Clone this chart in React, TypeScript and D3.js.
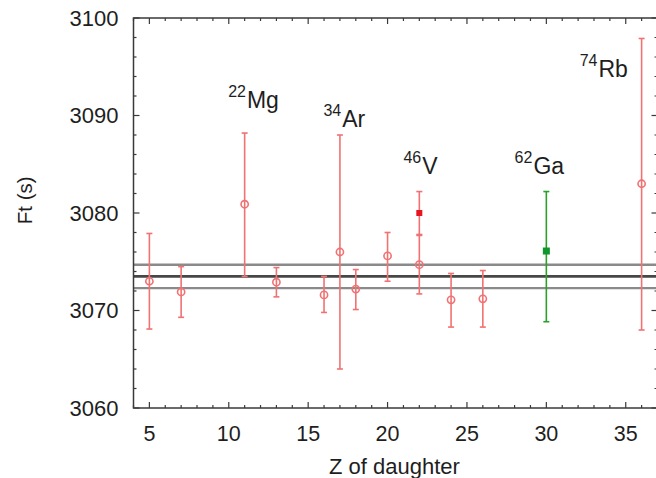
import React from "react";
import * as d3 from "d3";

// ---- data ----
const zValues = [5, 7, 11, 13, 16, 17, 18, 20, 22, 24, 26, 36];
const ftValues = [3073.0, 3071.9, 3080.9, 3072.9, 3071.6, 3076.0, 3072.2, 3075.6, 3074.7, 3071.1, 3071.2, 3083.0];
const errLow = [4.9, 2.6, 7.4, 1.5, 1.8, 12.0, 2.1, 2.6, 3.0, 2.8, 2.9, 15.0];
const errHigh = [4.9, 2.6, 7.3, 1.5, 1.9, 12.0, 2.0, 2.4, 3.0, 2.7, 2.9, 14.9];

const newRedZ = [22];
const newRedFt = [3080.0];
const newRedErrLow = [2.2];
const newRedErrHigh = [2.2];

const greenZ = [30];
const greenFt = [3076.1];
const greenErrLow = [7.25];
const greenErrHigh = [6.1];

const avgFt = 3073.5;
const avgErr = 1.2;

const labelMass = ["22", "34", "46", "62", "74"];
const labelElement = ["Mg", "Ar", "V", "Ga", "Rb"];
const labelZ = [9.96, 15.96, 21.0, 28.0, 32.1];
const labelFt = [3090.8, 3088.85, 3084.0, 3084.0, 3093.95];

const xTickLabels = [5, 10, 15, 20, 25, 30, 35];
const yTickLabels = [3060, 3070, 3080, 3090, 3100];

const W = 656;
const H = 478;
const left = 133.5;
const right = 657.5;
const top = 18;
const bottom = 408;

const FONT = "'Liberation Sans', Arial, Helvetica, sans-serif";
const RED = "#f07272";
const FRAME = "#3a3a3a";
const TEXT = "#1e1e1e";

export default function App() {
  const x = d3.scaleLinear().domain([4, 37]).range([left, right]);
  const y = d3.scaleLinear().domain([3060, 3100]).range([bottom, top]);

  const xMinor = d3.range(4, 38, 1);
  const yMinor = d3.range(3060, 3101, 2);

  const errBar = (
    z: number,
    v: number,
    lo: number,
    hi: number,
    color: string,
    key: string
  ) => {
    const cx = x(z);
    const y1 = y(v + hi);
    const y2 = y(v - lo);
    return (
      <g key={key} stroke={color} strokeWidth={1.6} fill="none">
        <line x1={cx} x2={cx} y1={y1} y2={y2} />
        <line x1={cx - 3} x2={cx + 3} y1={y1} y2={y1} />
        <line x1={cx - 3} x2={cx + 3} y1={y2} y2={y2} />
      </g>
    );
  };

  return (
    <svg
      width={W}
      height={H}
      style={{ position: "absolute", left: 0, top: 0, background: "#fff" }}
      fontFamily={FONT}
    >
      <rect x={0} y={0} width={W} height={H} fill="#fff" />

      {/* average band lines */}
      {[avgFt + avgErr, avgFt - avgErr].map((v, i) => (
        <line
          key={"band" + i}
          x1={left}
          x2={right}
          y1={y(v)}
          y2={y(v)}
          stroke="#8a8a8a"
          strokeWidth={2.4}
        />
      ))}
      <line
        x1={left}
        x2={right}
        y1={y(avgFt)}
        y2={y(avgFt)}
        stroke="#474747"
        strokeWidth={2.6}
      />

      {/* red error bars with open circles */}
      {zValues.map((z, i) => errBar(z, ftValues[i], errLow[i], errHigh[i], RED, "e" + i))}
      {zValues.map((z, i) => (
        <circle
          key={"c" + i}
          cx={x(z)}
          cy={y(ftValues[i])}
          r={3.6}
          fill="none"
          stroke={RED}
          strokeWidth={1.6}
        />
      ))}

      {/* new red measurement */}
      {newRedZ.map((z, i) => errBar(z, newRedFt[i], newRedErrLow[i], newRedErrHigh[i], RED, "nr" + i))}
      {newRedZ.map((z, i) => (
        <rect
          key={"nrm" + i}
          x={x(z) - 3}
          y={y(newRedFt[i]) - 3}
          width={6}
          height={6}
          fill="#e8141e"
        />
      ))}

      {/* green measurement */}
      {greenZ.map((z, i) => errBar(z, greenFt[i], greenErrLow[i], greenErrHigh[i], "#2aa02a", "g" + i))}
      {greenZ.map((z, i) => (
        <rect
          key={"gm" + i}
          x={x(z) - 3.5}
          y={y(greenFt[i]) - 3.5}
          width={7}
          height={7}
          fill="#10962a"
        />
      ))}

      {/* frame */}
      <rect
        x={left}
        y={top}
        width={right - left}
        height={bottom - top}
        fill="none"
        stroke={FRAME}
        strokeWidth={1.5}
      />

      {/* ticks */}
      <g stroke={FRAME} strokeWidth={1.2}>
        {xMinor.map((t) => {
          const len = t % 5 === 0 ? 6 : 3;
          return (
            <g key={"xt" + t}>
              <line x1={x(t)} x2={x(t)} y1={bottom} y2={bottom - len} />
              <line x1={x(t)} x2={x(t)} y1={top} y2={top + len} />
            </g>
          );
        })}
        {yMinor.map((t) => {
          const len = t % 10 === 0 ? 6 : 3;
          return (
            <g key={"yt" + t}>
              <line x1={left} x2={left + len} y1={y(t)} y2={y(t)} />
              <line x1={right} x2={right - len} y1={y(t)} y2={y(t)} />
            </g>
          );
        })}
      </g>

      {/* tick labels */}
      {xTickLabels.map((t) => (
        <text
          key={"xl" + t}
          x={x(t)}
          y={440.5}
          textAnchor="middle"
          fontSize={21.5}
          fill={TEXT}
        >
          {t}
        </text>
      ))}
      {yTickLabels.map((t) => (
        <text
          key={"yl" + t}
          x={118.5}
          y={y(t) + 7.5}
          textAnchor="end"
          fontSize={22}
          fill={TEXT}
        >
          {t}
        </text>
      ))}

      {/* axis titles */}
      <text
        x={(left + 657.5) / 2 - 1}
        y={474}
        textAnchor="middle"
        fontSize={22}
        fill={TEXT}
      >
        Z of daughter
      </text>
      <text
        transform={`translate(32, ${y(3081.3)}) rotate(-90)`}
        textAnchor="middle"
        fontSize={20.5}
        fill={TEXT}
      >
        Ft (s)
      </text>

      {/* isotope labels */}
      {labelMass.map((m, i) => (
        <text key={"lab" + i} x={x(labelZ[i])} y={y(labelFt[i])} fill={TEXT}>
          <tspan fontSize={16} dy={-11}>
            {m}
          </tspan>
          <tspan fontSize={23} dy={11} dx={1}>
            {labelElement[i]}
          </tspan>
        </text>
      ))}
    </svg>
  );
}
